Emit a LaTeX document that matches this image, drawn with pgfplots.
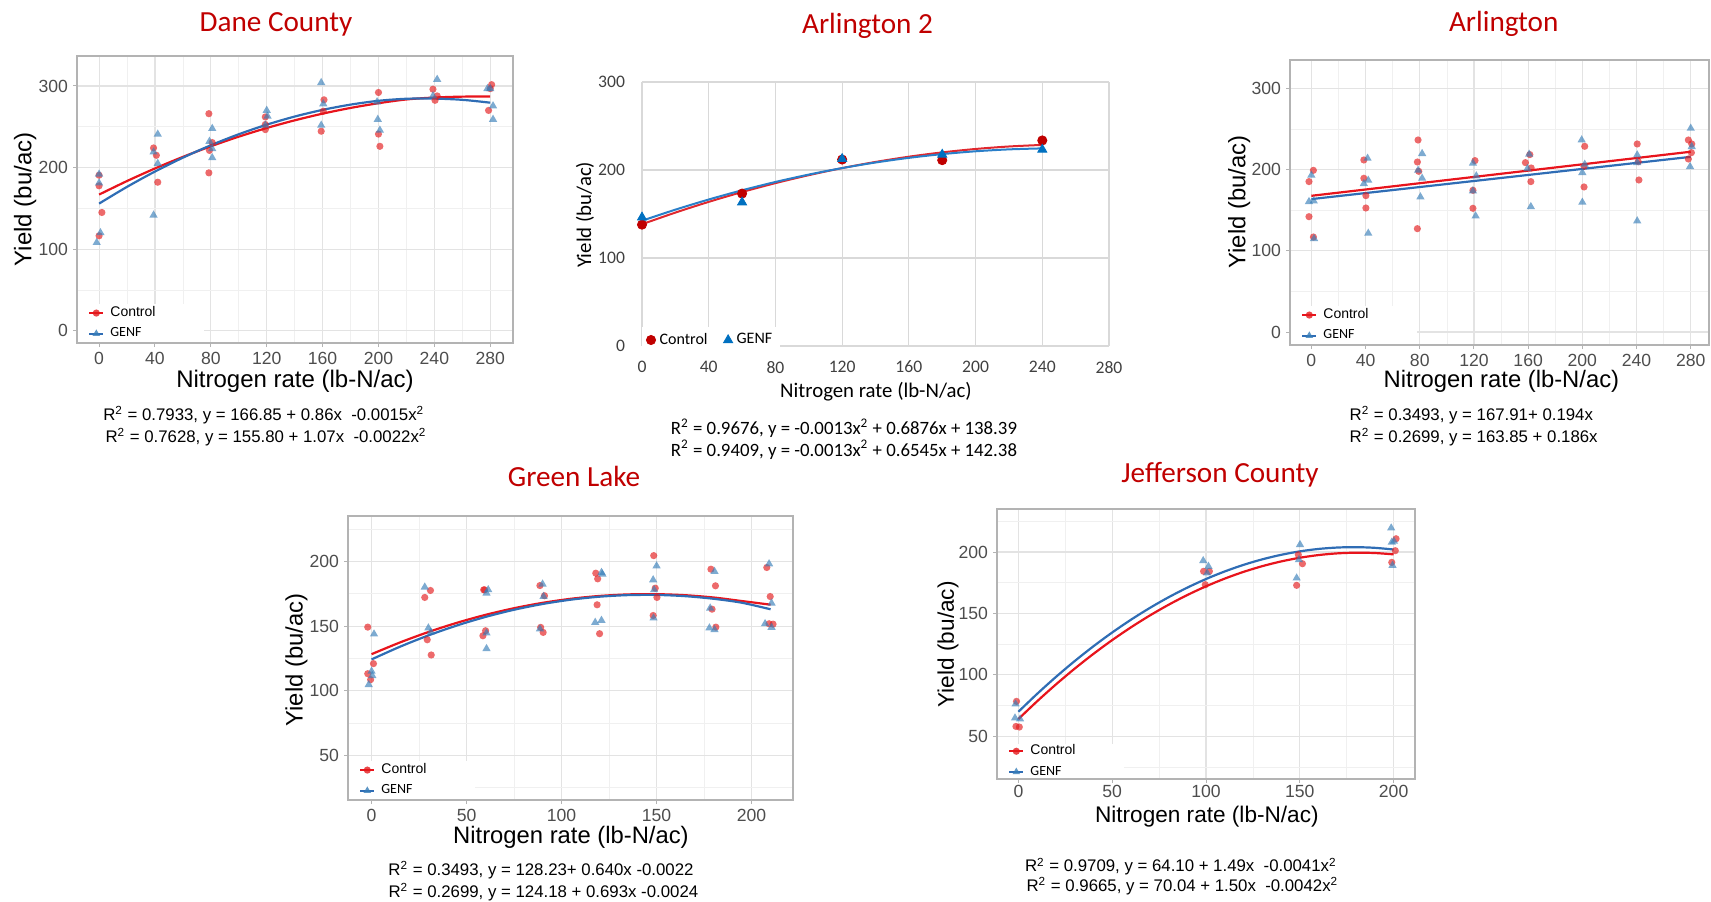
\documentclass[border=0pt]{standalone}
\usepackage{fontspec}
\setmainfont{Liberation Sans}
\newfontfamily\calibri{Carlito}
\usepackage{pgfplots}
\pgfplotsset{compat=1.18}

\definecolor{titlered}{HTML}{C00000}
\definecolor{ptred}{HTML}{E41A1C}
\definecolor{ptblue}{HTML}{377EB8}
\definecolor{lnred}{HTML}{E8141C}
\definecolor{lnblue}{HTML}{2F6DB5}
\definecolor{gborder}{HTML}{B3B3B3}
\definecolor{gmajor}{HTML}{E3E3E3}
\definecolor{gminor}{HTML}{F0F0F0}
\definecolor{gtick}{HTML}{4D4D4D}
\definecolor{xlred}{HTML}{C00000}
\definecolor{xlblue}{HTML}{0070C0}
\definecolor{xlredln}{HTML}{E0282E}
\definecolor{xlblueln}{HTML}{2A7FC9}
\definecolor{xlgrid}{HTML}{D9D9D9}
\definecolor{xltick}{HTML}{404040}

\pgfplotsset{
  gg/.style={
    scale only axis, anchor=south west,
    axis line style={gborder, line width=0.6pt},
    grid=both,
    major grid style={gmajor, line width=0.55pt},
    minor grid style={gminor, line width=0.35pt},
    tick align=outside,
    major tick length=2pt,
    minor tick length=0pt,
    tick style={gborder, line width=0.5pt},
    xtick pos=left, ytick pos=left,
    tick label style={font=\fontsize{8.8}{10}\selectfont, text=gtick},
    xticklabel style={yshift=1pt}, yticklabel style={xshift=1pt},
    label style={font=\fontsize{11.9}{13}\selectfont},
    xlabel={Nitrogen rate (lb-N/ac)}, ylabel={Yield (bu/ac)},
    /pgf/number format/assume math mode=true,
    legend cell align=left,
    legend style={at={(axis description cs:0,0)}, xshift=0.4pt, yshift=0.4pt,
      anchor=south west, draw=none, fill=white,
      font=\fontsize{7}{8}\selectfont, inner xsep=5pt, inner ysep=0.8pt, row sep=3.65pt,
      nodes={inner ysep=0.2pt}},
    legend image code/.code={\draw[mark repeat=2,mark phase=2,#1] plot coordinates {(0pt,0pt) (3.5pt,0pt) (7pt,0pt)};},
  },
  rpt/.style={only marks, mark=*, mark size=1.8pt, mark options={fill=ptred, draw opacity=0, fill opacity=0.65}, forget plot},
  bpt/.style={only marks, mark=triangle*, mark size=2.4pt, mark options={fill=ptblue, draw opacity=0, fill opacity=0.65}, forget plot},
  rln/.style={lnred, line width=1.1pt, smooth, no marks, forget plot},
  bln/.style={lnblue, line width=1.1pt, smooth, no marks, forget plot},
}
\newcommand{\gglegend}{%
  \addlegendimage{lnred, line width=1.1pt, mark=*, mark size=1.8pt, mark options={fill=ptred, draw opacity=0, fill opacity=0.8}}
  \addlegendentry{\hspace*{1pt}Control\hspace*{17pt}}
  \addlegendimage{lnblue, line width=1.1pt, mark=triangle*, mark size=2.2pt, mark options={fill=ptblue, draw opacity=0, fill opacity=0.8}}
  \addlegendentry{\hspace*{1pt}{\calibri GENF}}
}

\begin{document}
\begin{tikzpicture}
\useasboundingbox (0pt,0pt) rectangle (855.5pt,-450.5pt);

% ---------- Dane County ----------
\begin{axis}[gg, at={(38.5pt,-171.5pt)}, width=218pt, height=143.5pt,
  xmin=-15.8, xmax=296.3, ymin=-15.1, ymax=336.7,
  xtick={0,40,...,280}, ytick={0,100,200,300},
  minor xtick={20,60,...,260}, minor ytick={50,150,250},
  label style={font=\fontsize{12}{13}\selectfont},
  xlabel style={at={(axis description cs:0.5,-0.134)}, anchor=center},
  ylabel style={at={(axis description cs:-0.119,0.5)}, anchor=center}]
\addplot[rpt] coordinates {(0,177.6)(0,190.6)(2,144.9)(0,116.3)(39,224)(41,215)(42,182)(78.6,266)(78.6,193.5)(79,221)(81,230.6)(119,262)(119,246.5)(119,252.7)(159,244.5)(161,283)(160.5,269)(200,292)(200,241)(201,226)(239,296)(240.5,282.4)(242,287.8)(278.8,270)(281,301.6)(280,296.7)};
\addplot[bpt] coordinates {(-1.7,108)(1,120)(0,191.8)(0,181)(39,141.6)(42,240.8)(39,219)(42,205)(81,247.8)(81,212)(79,232)(81,223)(120,270)(120.6,262.9)(119,251.8)(159,304)(160.5,278)(159,251.8)(199,280.4)(199.5,259)(201,245.7)(242,308)(239,287.8)(280,296.7)(282,275.5)(282,259)(278,296.7)};
\addplot[rln] coordinates {(0,166.85)(20,183.45)(40,198.85)(60,213.05)(80,226.05)(100,237.85)(120,248.45)(140,257.85)(160,266.05)(180,273.05)(200,278.85)(220,283.45)(240,285.8)(260,286.9)(280,287.0)};
\addplot[bln] coordinates {(0,155.8)(20,176.32)(40,195.08)(60,212.08)(80,227.32)(100,240.8)(120,252.52)(140,262.48)(160,270.68)(180,277.12)(200,281.8)(220,284.3)(240,284.5)(260,283.0)(280,279.5)};
\gglegend
\end{axis}

% ---------- Arlington 2 ----------
\begin{axis}[scale only axis, anchor=south west, at={(321pt,-173pt)}, width=233.5pt, height=132pt,
  xmin=0, xmax=280, ymin=0, ymax=300,
  xtick={0,40,...,280}, ytick={0,100,200,300},
  grid=major, major grid style={xlgrid, line width=0.6pt},
  axis line style={draw=none}, major tick length=0pt,
  tick label style={font=\calibri\fontsize{8.8}{10}\selectfont, text=xltick},
  xticklabel style={yshift=-4pt}, yticklabel style={xshift=-5pt},
  label style={font=\calibri\fontsize{10.4}{12}\selectfont},
  xlabel={Nitrogen rate (lb-N/ac)}, ylabel={Yield (bu/ac)},
  xlabel style={at={(axis description cs:0.501,-0.173)}, anchor=center},
  ylabel style={at={(axis description cs:-0.122,0.497)}, anchor=center},
  clip=false,
  /pgf/number format/assume math mode=true,
  legend columns=2,
  legend style={at={(axis description cs:0,0.0227)}, anchor=west, draw=none, fill=white,
    font=\calibri\fontsize{8}{9}\selectfont, inner xsep=2pt, inner ysep=1pt,
    /tikz/every even column/.append style={column sep=6pt}},
  legend image code/.code={\draw[#1] plot coordinates {(2.5pt,0pt)};}]
\addplot[xlredln, line width=1pt, smooth, no marks, forget plot] coordinates {(0,138.39)(20,151.62)(40,163.81)(60,174.97)(80,185.08)(100,194.15)(120,202.18)(140,209.17)(160,215.13)(180,220.04)(200,223.91)(220,226.74)(240,228.53)};
\addplot[xlblueln, line width=1pt, smooth, no marks, forget plot] coordinates {(0,142.38)(20,154.95)(40,166.48)(60,176.97)(80,186.42)(100,194.83)(120,202.2)(140,208.53)(160,213.82)(180,218.07)(200,221.28)(220,223.45)(240,224.58)};
\addplot[only marks, mark=*, mark size=2.3pt, mark options={fill=xlred, draw=xlred}, forget plot] coordinates {(0,137.9)(60,173.2)(120,211.9)(180,211.2)(240,233.6)};
\addplot[only marks, mark=triangle*, mark size=2.6pt, mark options={fill=xlblue, draw=xlblue}, forget plot] coordinates {(0,146.2)(60,163.3)(120,212.7)(180,217.6)(240,223.3)};
\addlegendimage{only marks, mark=*, mark size=2.3pt, mark options={fill=xlred, draw=xlred}}
\addlegendentry{Control}
\addlegendimage{only marks, mark=triangle*, mark size=2.6pt, mark options={fill=xlblue, draw=xlblue}}
\addlegendentry{GENF}
\end{axis}

% ---------- Arlington ----------
\begin{axis}[gg, at={(645pt,-172.5pt)}, width=209.5pt, height=142.5pt,
  xmin=-15.75, xmax=293.5, ymin=-16, ymax=335.3,
  xtick={0,40,...,280}, ytick={0,100,200,300},
  minor xtick={20,60,...,260}, minor ytick={50,150,250},
  xlabel style={at={(axis description cs:0.5045,-0.128)}, anchor=center},
  ylabel style={at={(axis description cs:-0.121,0.502)}, anchor=center}]
\addplot[rpt] coordinates {(-1.75,185.4)(1.5,199.3)(-1.75,142.2)(1.5,117.1)(38.75,212.1)(38.75,189.5)(40.25,168.1)(40.25,152.9)(78.75,236.7)(78.25,209.6)(79.25,198.1)(78.25,127.4)(120.75,211.3)(119.25,174.7)(119.25,152.5)(158,208.8)(161.25,218.7)(162.25,202.2)(162,185.4)(201.75,228.9)(201.25,204.3)(201.25,178.8)(240.5,231.8)(241.25,210)(241.75,187.4)(278.25,236.7)(280.75,231.8)(280.5,221.1)(278.25,213.3)};
\addplot[bpt] coordinates {(0,193.2)(-1.75,160.7)(1.75,161.5)(2,115.1)(41.5,214.1)(38.75,182.9)(42,187)(42,121.7)(81.75,219.9)(81.75,189.5)(78.75,199.3)(80.5,166.5)(119.25,208)(121.75,192.4)(119.25,173.9)(121.25,143)(160.75,219.1)(159.5,201.4)(162,154.5)(199.5,236.7)(200,196.5)(201.75,206.7)(200,159.9)(240.5,218.2)(240.5,208.8)(240.5,136.9)(280,251.1)(280.75,228.5)(279.5,203.9)};
\addplot[rln] coordinates {(0,167.91)(280,222.23)};
\addplot[bln] coordinates {(0,163.85)(280,215.93)};
\gglegend
\end{axis}

% ---------- Green Lake ----------
\begin{axis}[gg, at={(174pt,-400pt)}, width=222.5pt, height=142pt,
  xmin=-12.4, xmax=221.8, ymin=15.2, ymax=235.3,
  xtick={0,50,...,200}, ytick={50,100,150,200},
  minor xtick={25,75,125,175}, minor ytick={25,75,125,175,225},
  xlabel style={at={(axis description cs:0.501,-0.133)}, anchor=center},
  ylabel style={at={(axis description cs:-0.116,0.493)}, anchor=center}]
\addplot[rpt] coordinates {(-2,149.2)(-2,113.1)(-0.5,108.5)(1,120.9)(28,172.2)(31,177.6)(29.3,139.4)(31.4,127.6)(59,178.1)(59.5,178.1)(60,146.4)(58.6,142.5)(88.6,181.4)(89,149)(90.3,145.1)(91,173.5)(118,191)(119,186.6)(118.7,166.5)(120,144.1)(148.5,204.6)(148.2,158.2)(149.3,179.4)(150.2,172.2)(178.6,194.1)(181,181.2)(181.2,149.2)(179.2,163.1)(208,195.4)(209.8,172.9)(209.2,151.8)(211.3,151.5)};
\addplot[bpt] coordinates {(1.3,143.8)(0,115)(0.4,111.6)(-1.5,104.6)(28,180.2)(29.9,148.5)(31.2,145.4)(61.4,178.1)(60.5,175.5)(60.5,144.6)(60.5,132.5)(90,182.5)(90.5,172.9)(88.6,147.7)(121,191.5)(121.5,190.2)(117.7,152.8)(121,154.4)(148.2,185.8)(150,196.6)(148.7,178.1)(148.4,156.2)(178.2,163.9)(180.5,192.3)(177.8,148.5)(180.5,147.2)(209.2,198.2)(207.1,151.8)(210.5,167.8)(210.5,149)};
\addplot[rln] coordinates {(0,128.23)(15,137.34)(30,145.45)(45,152.58)(60,158.71)(75,163.86)(90,168.01)(105,171.18)(120,173.35)(135,174.54)(150,174.73)(165,173.94)(180,172.15)(195,169.38)(210,166.6)};
\addplot[bln] coordinates {(0,124.18)(15,134.04)(30,142.81)(45,150.51)(60,157.12)(75,162.66)(90,167.11)(105,170.49)(120,172.78)(135,174.0)(150,174.13)(165,173.19)(180,171.16)(195,168.06)(210,163.0)};
\gglegend
\end{axis}

% ---------- Jefferson County ----------
\begin{axis}[gg, at={(498.5pt,-389.5pt)}, width=209pt, height=135pt,
  xmin=-11.4, xmax=211.4, ymin=15.3, ymax=235,
  xtick={0,50,...,200}, ytick={50,100,150,200},
  minor xtick={25,75,125,175}, minor ytick={25,75,125,175,225},
  xticklabel style={yshift=1.2pt},
  label style={font=\fontsize{11.3}{13}\selectfont},
  legend style={inner ysep=0pt, yshift=-0.3pt},
  xlabel style={at={(axis description cs:0.502,-0.14)}, anchor=center},
  ylabel style={at={(axis description cs:-0.117,0.499)}, anchor=center}]
\addplot[rpt] coordinates {(-1,78.5)(-1.3,58.1)(0.5,57.6)(98.7,184.3)(101.8,184.3)(99.6,173.4)(148.3,172.9)(149.2,197.8)(151.4,190.5)(199,191.6)(201.3,210.8)(200.9,201.1)};
\addplot[bpt] coordinates {(-1.5,76.3)(-1.8,64.9)(0.9,64.1)(98.5,192.9)(101.3,188.3)(100.6,182.9)(150.1,206)(148.3,178.8)(149.5,193.7)(198.7,219.5)(199.4,189.1)(200.2,208.7)(199,207.9)};
\addplot[rln] coordinates {(0,64.1)(10,78.59)(20,92.26)(30,105.11)(40,117.14)(50,128.35)(60,138.74)(70,148.31)(80,157.06)(90,164.99)(100,172.1)(110,178.39)(120,183.86)(130,188.51)(140,192.34)(150,195.35)(160,197.54)(170,198.91)(180,199.46)(190,199.19)(200,198.1)};
\addplot[bln] coordinates {(0,70.04)(10,84.62)(20,98.36)(30,111.26)(40,123.32)(50,134.54)(60,144.92)(70,154.46)(80,163.16)(90,171.02)(100,178.04)(110,184.22)(120,189.56)(130,194.06)(140,197.72)(150,200.54)(160,202.52)(170,203.66)(180,203.96)(190,203.42)(200,202.04)};
\gglegend
\end{axis}

% ---------- titles ----------
\begin{scope}[every node/.style={font=\calibri\fontsize{14.6}{16}\selectfont, text=titlered}]
\node at (138pt,-12pt) {Dane County};
\node at (433.75pt,-13pt) {Arlington 2};
\node at (751.85pt,-12pt) {Arlington};
\node at (287pt,-238pt) {Green Lake};
\node at (610pt,-237.2pt) {Jefferson County};
\end{scope}

% ---------- fitted equations ----------
\begin{scope}[every node/.style={font=\fontsize{8.4}{10}\selectfont, inner sep=0pt}]
\node at (131.9pt,-207.5pt) {R\textsuperscript{2} = 0.7933, y = 166.85 + 0.86x\ \ -0.0015x\textsuperscript{2}};
\node at (133pt,-218.5pt) {R\textsuperscript{2} = 0.7628, y = 155.80 + 1.07x\ \ -0.0022x\textsuperscript{2}};
\node[anchor=west] at (674.6pt,-207.5pt) {R\textsuperscript{2} = 0.3493, y = 167.91+ 0.194x};
\node[anchor=west] at (674.6pt,-218.5pt) {R\textsuperscript{2} = 0.2699, y = 163.85 + 0.186x};
\node at (270.5pt,-435pt) {R\textsuperscript{2} = 0.3493, y = 128.23+ 0.640x -0.0022};
\node at (271.7pt,-445.9pt) {R\textsuperscript{2} = 0.2699, y = 124.18 + 0.693x -0.0024};
\node at (590.4pt,-433.3pt) {R\textsuperscript{2} = 0.9709, y = 64.10 + 1.49x\ \ -0.0041x\textsuperscript{2}};
\node at (591.2pt,-443pt) {R\textsuperscript{2} = 0.9665, y = 70.04 + 1.50x\ \ -0.0042x\textsuperscript{2}};
\end{scope}
\begin{scope}[every node/.style={font=\calibri\fontsize{9.4}{11}\selectfont, inner sep=0pt}]
\node at (422pt,-214.2pt) {R\textsuperscript{2} = 0.9676, y = -0.0013x\textsuperscript{2} + 0.6876x + 138.39};
\node at (422pt,-225pt) {R\textsuperscript{2} = 0.9409, y = -0.0013x\textsuperscript{2} + 0.6545x + 142.38};
\end{scope}
\end{tikzpicture}
\end{document}
